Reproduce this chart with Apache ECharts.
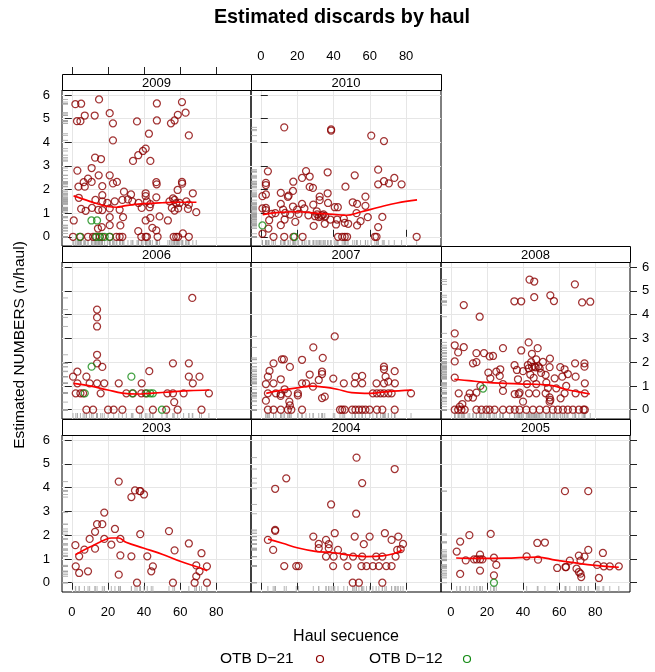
<!DOCTYPE html>
<html>
<head>
<meta charset="utf-8">
<script src="https://cdn.jsdelivr.net/npm/echarts@6/dist/echarts.min.js"></script>
<style>
  html, body { margin: 0; padding: 0; background: #fff; }
  #chart { width: 655px; height: 672px; }
</style>
</head>
<body>
<div id="chart"></div>
<script>
// points: [haul, numbers]
var red2009 = [
  [2.0, 5.61], [5.2, 5.63], [15.1, 5.81], [47.1, 5.64], [61.0, 5.70],
  [7.2, 5.13], [12.7, 5.13], [21.0, 5.23], [58.7, 5.16], [63.0, 5.25],
  [2.9, 4.89], [4.8, 4.89], [22.8, 4.80], [36.1, 4.88], [47.1, 4.92], [54.9, 4.80], [56.9, 4.92],
  [42.7, 4.36], [22.8, 4.08], [64.8, 4.29],
  [40.9, 3.73], [39.4, 3.63], [36.8, 3.45], [33.9, 3.21], [43.5, 3.21], [12.9, 3.35], [16.2, 3.29],
  [3.1, 2.80], [11.0, 2.91], [14.9, 2.60], [21.0, 2.60], [25.0, 2.32], [22.8, 2.26], [9.0, 2.46],
  [6.6, 2.31], [3.7, 2.12], [7.2, 2.12], [11.0, 2.32], [16.9, 2.14], [46.8, 2.31], [47.0, 2.22],
  [61.0, 2.32], [61.1, 2.25],
  [28.9, 1.91], [32.8, 1.79], [40.9, 1.84], [40.9, 1.72], [58.6, 1.98], [67.0, 1.84], [16.9, 1.76],
  [13.1, 1.56], [16.9, 1.50], [19.7, 1.43], [23.8, 1.50], [28.0, 1.56], [31.1, 1.58], [33.5, 1.50],
  [37.0, 1.43], [41.6, 1.50], [43.5, 1.38], [46.8, 1.67], [54.1, 1.50], [56.0, 1.62], [56.9, 1.56],
  [57.8, 1.42], [59.7, 1.43], [63.4, 1.50], [64.8, 1.36], [3.9, 1.65],
  [5.2, 1.18], [7.7, 1.10], [11.2, 1.22], [14.7, 1.14], [16.9, 1.13], [21.0, 1.20], [26.5, 1.14],
  [38.7, 1.22], [43.1, 1.25], [55.4, 1.22], [56.9, 1.11], [58.9, 1.20], [64.3, 1.18], [68.9, 1.04],
  [1.1, 0.69], [21.0, 0.83], [28.4, 0.83], [40.9, 0.69], [43.5, 0.80], [48.6, 0.86], [53.2, 0.69],
  [16.6, 0.41], [21.0, 0.49], [26.9, 0.48], [36.8, 0.24], [44.6, 0.38], [46.8, 0.27], [14.5, 0.35],
  [61.5, 0.14],
  [0.7, 0], [4.8, 0], [9.0, 0], [11.8, 0], [13.1, 0], [15.5, 0], [16.9, 0], [21.0, 0], [24.7, 0],
  [26.5, 0], [28.0, 0], [38.5, 0], [40.9, 0], [41.6, 0], [47.5, 0], [56.4, 0], [57.8, 0], [58.9, 0],
  [64.8, 0]
];
var green2009 = [[4.4, 0], [13.6, 0], [15.5, 0], [18.2, 0], [21.0, 0], [10.9, 0.69], [14.0, 0.69]];
var fit2009 = [[1, 1.73], [10, 1.50], [20, 1.28], [25, 1.25], [30, 1.32], [40, 1.40], [50, 1.44], [60, 1.46], [69, 1.46]];

var red2010 = [
  [12.9, 4.63], [38.7, 4.54], [38.7, 4.49], [60.8, 4.28], [67.8, 4.05],
  [3.9, 2.77], [64.6, 2.84], [24.9, 2.78], [36.8, 2.73], [22.7, 2.49], [26.9, 2.55], [51.7, 2.60],
  [73.5, 2.49], [67.8, 2.35], [70.5, 2.26], [77.5, 2.22], [64.6, 2.22], [2.8, 2.28], [2.8, 2.19],
  [17.9, 2.33], [26.9, 2.11], [28.7, 2.07], [46.6, 2.12],
  [17.7, 1.94], [11.0, 1.86], [15.3, 1.74], [14.9, 1.69], [36.8, 1.84], [57.6, 1.70], [32.4, 1.70],
  [32.4, 1.55], [0.9, 1.72], [2.8, 1.79],
  [50.6, 1.46], [53.0, 1.39], [57.6, 1.31], [40.7, 1.25], [42.4, 1.25], [37.0, 1.43], [22.7, 1.39],
  [28.9, 1.36], [11.0, 1.39], [17.7, 1.28], [2.8, 1.22], [2.8, 1.13], [0.9, 1.20],
  [6.1, 0.97], [12.3, 1.15], [13.4, 1.01], [16.2, 0.94], [20.8, 0.97], [26.2, 0.91], [29.9, 0.87],
  [30.8, 1.08], [31.9, 0.83], [33.7, 0.91], [35.5, 0.87], [38.3, 0.73], [42.0, 0.73], [45.7, 0.77],
  [48.1, 0.55], [52.7, 1.00], [53.0, 0.48], [54.9, 0.66], [58.9, 0.83], [66.9, 0.84], [64.6, 0.41],
  [31.0, 0.95], [33.0, 0.85], [34.5, 0.95], [24.0, 1.20], [8.0, 1.00], [20.0, 1.15],
  [4.6, 0.70], [4.2, 0.35], [11.0, 0.49], [13.1, 0.73], [19.0, 0.63], [29.1, 0.46], [35.2, 0.55],
  [41.4, 0.52], [46.2, 0.59], [0.9, 0.13],
  [7.0, 0], [12.9, 0], [18.0, 0], [23.0, 0], [42.5, 0], [44.8, 0], [46.2, 0], [47.5, 0], [62.8, 0],
  [63.7, 0], [85.8, 0]
];
var green2010 = [[0.9, 0.48], [18.6, 0]];
var fit2010 = [[1, 0.94], [10, 1.03], [20, 1.06], [30, 1.00], [40, 0.95], [47, 0.91], [55, 1.05], [65, 1.25], [75, 1.43], [86, 1.56]];

var red2006 = [
  [66.7, 4.70], [14.0, 4.21], [14.0, 3.88], [14.0, 3.50], [14.0, 2.31], [14.0, 1.95], [16.9, 1.80],
  [3.1, 1.60], [0.7, 1.39], [8.1, 1.39], [42.9, 1.62], [56.0, 1.95], [64.8, 1.95], [64.8, 1.39], [70.7, 1.39],
  [3.1, 1.11], [9.9, 1.11], [14.0, 1.11], [18.0, 1.11], [26.0, 1.11], [38.7, 1.11], [67.0, 1.11],
  [2.2, 0.69], [4.8, 0.69], [6.3, 0.69], [16.0, 0.69], [30.2, 0.69], [33.9, 0.69], [38.5, 0.69],
  [40.9, 0.69], [52.9, 0.69], [56.0, 0.69], [61.9, 0.69], [75.9, 0.69], [56.7, 0.32],
  [8.1, 0], [11.8, 0], [20.1, 0], [23.2, 0], [28.0, 0], [37.6, 0], [44.9, 0], [52.3, 0], [58.6, 0], [71.8, 0]
];
var green2006 = [[11.0, 1.81], [33.0, 1.39], [7.2, 0.69], [33.5, 0.69], [41.6, 0.69], [43.5, 0.69], [44.9, 0.69], [49.9, 0]];
var fit2006 = [[1, 1.11], [10, 1.00], [20, 0.83], [28, 0.70], [36, 0.66], [45, 0.70], [55, 0.75], [65, 0.80], [76, 0.83]];

var red2007 = [
  [40.7, 3.08], [28.9, 2.62], [34.1, 2.18], [11.6, 2.12], [12.7, 2.12], [22.7, 2.10], [7.0, 1.95],
  [16.0, 1.80], [4.8, 1.63], [3.9, 1.39], [11.0, 1.28], [26.9, 1.48], [33.7, 1.60], [33.7, 1.50],
  [31.9, 1.25], [39.9, 1.31], [52.1, 1.39], [55.8, 1.42], [67.8, 1.81], [67.8, 1.70], [73.7, 1.62], [68.7, 1.39],
  [2.8, 1.08], [7.0, 1.11], [22.7, 1.11], [24.9, 1.11], [45.7, 1.11], [51.7, 1.11], [55.8, 1.11],
  [63.7, 1.11], [67.8, 1.11], [70.2, 1.18], [73.8, 1.11], [13.1, 0.86], [28.7, 0.97],
  [3.9, 0.69], [8.3, 0.69], [11.0, 0.66], [14.9, 0.69], [20.4, 0.69], [20.4, 0.60],
  [61.7, 0.69], [63.9, 0.69], [65.9, 0.69], [67.8, 0.69], [70.2, 0.69], [72.0, 0.69], [82.7, 0.69],
  [10.9, 0.58], [2.8, 0.38], [15.7, 0.34], [16.0, 0.18], [33.7, 0.49], [35.2, 0.55],
  [3.9, 0], [7.0, 0], [11.0, 0], [14.9, 0], [16.8, 0], [22.7, 0], [43.6, 0], [44.8, 0], [46.2, 0],
  [50.3, 0], [52.1, 0], [54.0, 0], [55.8, 0], [57.6, 0], [59.9, 0], [63.9, 0], [66.9, 0], [73.7, 0]
];
var green2007 = [];
var fit2007 = [[3, 0.69], [10, 0.80], [20, 0.92], [28, 0.99], [35, 0.95], [42, 0.86], [50, 0.72], [60, 0.69], [70, 0.76], [83, 0.82]];

var red2008 = [
  [43.6, 5.47], [46.2, 5.39], [68.7, 5.27], [7.2, 4.40], [35.2, 4.56], [39.0, 4.56], [46.2, 4.73],
  [55.1, 4.81], [57.1, 4.57], [72.7, 4.51], [77.2, 4.54], [16.0, 3.91],
  [2.2, 3.21], [2.2, 2.71], [7.2, 2.63], [4.1, 2.41], [14.2, 2.38], [18.4, 2.38], [21.5, 2.24],
  [23.4, 2.26], [28.9, 2.59], [39.0, 2.49], [43.1, 2.83], [48.1, 2.59], [44.9, 2.35], [47.3, 2.12], [54.9, 2.15],
  [2.2, 2.03], [12.3, 1.95], [14.2, 2.00], [35.3, 1.87], [42.7, 1.88], [46.4, 1.81], [51.0, 2.01],
  [54.7, 1.79], [60.6, 1.79], [63.0, 1.70], [64.8, 1.50], [68.8, 1.95], [74.0, 1.95], [74.0, 1.81],
  [20.8, 1.56], [25.2, 1.60], [27.4, 1.70], [21.9, 1.32], [27.1, 1.42], [36.6, 1.67], [37.2, 1.28],
  [40.0, 1.62], [43.1, 1.74], [44.0, 1.48], [45.9, 1.34], [49.2, 1.74], [52.5, 1.46], [57.5, 1.32],
  [61.7, 1.39], [69.1, 1.39], [2.2, 1.35], [45.0, 1.80], [47.0, 1.78], [48.5, 1.82], [44.5, 2.00], [50.0, 1.55],
  [16.4, 1.00], [28.9, 1.08], [42.2, 1.08], [47.3, 1.08], [52.9, 1.14], [53.8, 0.91], [58.4, 0.90],
  [63.9, 1.00], [74.2, 1.11],
  [4.4, 0.69], [10.5, 0.69], [14.2, 0.72], [9.6, 0.51], [12.3, 0.51], [28.9, 0.79], [35.4, 0.66],
  [37.6, 0.66], [38.1, 0.72], [43.3, 0.69], [47.3, 0.69], [52.5, 0.69], [54.7, 0.52], [55.1, 0.41],
  [54.7, 0.34], [60.8, 0.48], [63.0, 0.69], [69.1, 0.69], [74.2, 0.69], [40.0, 0.34], [6.4, 0.24], [5.0, 0.13],
  [2.2, 0], [4.1, 0], [5.9, 0], [7.7, 0], [14.2, 0], [17.0, 0], [19.7, 0], [21.5, 0], [24.3, 0],
  [28.9, 0], [32.6, 0], [35.4, 0], [38.1, 0], [41.8, 0], [45.5, 0], [49.2, 0], [52.9, 0], [56.5, 0],
  [59.3, 0], [62.1, 0], [64.8, 0], [67.6, 0], [70.9, 0], [73.5, 0], [74.2, 0]
];
var green2008 = [[17.9, 0.89]];
var fit2008 = [[2, 1.28], [10, 1.22], [20, 1.15], [30, 1.11], [40, 1.08], [50, 1.06], [57, 1.00], [64, 0.85], [70, 0.76], [77, 0.66]];

var red2003 = [
  [26.0, 4.25], [35.0, 3.88], [37.6, 3.85], [38.0, 3.85], [40.0, 3.71], [33.0, 3.60], [18.0, 2.95],
  [14.0, 2.46], [16.9, 2.46], [23.9, 2.26], [12.9, 2.14], [53.8, 2.17], [37.9, 2.04],
  [9.9, 1.84], [18.0, 1.84], [26.9, 1.84], [2.0, 1.58], [21.9, 1.60], [64.8, 1.65], [7.0, 1.39],
  [12.9, 1.43], [56.9, 1.36], [71.8, 1.24], [26.9, 1.15], [33.0, 1.11], [4.1, 1.11], [41.8, 1.11],
  [68.9, 0.73], [2.2, 0.69], [44.9, 0.69], [74.8, 0.69], [9.0, 0.48], [44.0, 0.48], [70.7, 0.48],
  [4.1, 0.41], [26.0, 0.34], [68.9, 0.27],
  [36.1, 0], [56.0, 0], [68.0, 0], [74.8, 0]
];
var green2003 = [];
var fit2003 = [[2, 1.18], [10, 1.50], [19, 1.83], [22, 1.88], [26, 1.88], [30, 1.70], [40, 1.45], [50, 1.20], [60, 0.90], [70, 0.65], [75, 0.50]];

var red2004 = [
  [52.7, 5.26], [73.7, 4.78], [14.0, 4.39], [55.8, 4.19], [7.9, 3.95], [38.7, 3.29], [52.5, 2.90],
  [7.9, 2.22], [7.9, 2.18], [40.7, 2.08], [68.3, 2.08], [28.9, 1.94], [51.7, 1.94], [59.9, 1.94],
  [75.7, 1.94], [35.9, 1.80], [72.0, 1.80], [31.9, 1.63], [56.7, 1.62], [37.4, 1.62], [78.3, 1.63],
  [3.9, 1.80], [6.8, 1.38], [31.9, 1.45], [37.4, 1.45], [42.5, 1.38], [75.1, 1.38], [77.0, 1.41],
  [35.9, 1.10], [40.1, 1.10], [45.7, 1.10], [50.8, 1.10], [55.8, 1.10], [63.5, 1.10], [66.9, 1.10], [74.2, 1.10],
  [12.9, 0.70], [19.5, 0.70], [20.8, 0.70], [39.8, 0.70], [47.7, 0.70], [55.4, 0.70], [58.2, 0.70],
  [61.7, 0.70], [65.0, 0.70], [69.1, 0.70], [72.0, 0.70],
  [50.6, 0], [54.0, 0], [66.9, 0]
];
var green2004 = [];
var fit2004 = [[4, 1.83], [12, 1.66], [20, 1.47], [30, 1.32], [40, 1.26], [50, 1.15], [58, 1.10], [67, 1.13], [73, 1.22], [78, 1.37]];

var red2005 = [
  [63.2, 3.85], [76.1, 3.85], [10.3, 2.00], [22.1, 2.05], [5.2, 1.73], [47.9, 1.67], [52.1, 1.69],
  [3.3, 1.31], [16.2, 1.18], [76.1, 1.38], [84.2, 1.25], [42.0, 1.11], [70.9, 1.14], [74.0, 1.10],
  [8.3, 0.94], [12.9, 0.98], [14.4, 0.98], [16.2, 0.98], [17.5, 0.98], [23.9, 1.05], [48.3, 0.97],
  [65.9, 0.93], [71.8, 0.93], [25.2, 0.75], [81.0, 0.75], [84.7, 0.69], [88.0, 0.69], [93.0, 0.69],
  [5.2, 0.37], [16.2, 0.51], [23.9, 0.31], [58.9, 0.62], [63.5, 0.66], [63.8, 0.66], [69.6, 0.59],
  [70.9, 0.45], [71.8, 0.38], [72.2, 0.24], [82.0, 0.20]
];
var green2005 = [[23.9, 0]];
var fit2005 = [[3, 1.04], [15, 1.02], [30, 1.03], [48, 1.08], [58, 0.95], [70, 0.82], [80, 0.73], [93, 0.65]];

var xTicks = [0, 20, 40, 60, 80];
var yTicks = [0, 1, 2, 3, 4, 5, 6];
var xMin = -5.4, xMax = 99.2, yMin = -0.39, yMax = 6.21;

var FONT = '"Liberation Sans", Arial, sans-serif';
var RED = '#8b0000', GREEN = '#138a13', RUG = '#a3a3a3';

var colLeft = [62, 251, 441], colWidth = [189, 190, 189];
var rowTop = [90, 262, 435], rowHeight = [156, 157, 157];
var stripH = 16;

var panels = [
  { year: '2009', row: 0, col: 0, red: red2009, green: green2009, fit: fit2009, left: 'label', top: 'tick' },
  { year: '2010', row: 0, col: 1, red: red2010, green: green2010, fit: fit2010, top: 'label', right: 'tick' },
  { year: '2006', row: 1, col: 0, red: red2006, green: green2006, fit: fit2006, left: 'tick' },
  { year: '2007', row: 1, col: 1, red: red2007, green: green2007, fit: fit2007 },
  { year: '2008', row: 1, col: 2, red: red2008, green: green2008, fit: fit2008, right: 'label' },
  { year: '2003', row: 2, col: 0, red: red2003, green: green2003, fit: fit2003, left: 'label', bottom: 'label' },
  { year: '2004', row: 2, col: 1, red: red2004, green: green2004, fit: fit2004, bottom: 'tick' },
  { year: '2005', row: 2, col: 2, red: red2005, green: green2005, fit: fit2005, bottom: 'label', right: 'tick' }
];

var labelMargin = { bottom: 14, top: 11, left: 12, right: 12 };

function makeAxis(kind, gridIndex, position, mode, main) {
  var vals = kind === 'x' ? xTicks : yTicks;
  return {
    type: 'value',
    gridIndex: gridIndex,
    position: position,
    offset: position === 'top' ? stripH : 0,
    min: kind === 'x' ? xMin : yMin,
    max: kind === 'x' ? xMax : yMax,
    axisLine: { show: false },
    axisTick: { show: !!mode, length: 7, customValues: vals, lineStyle: { color: '#222', width: 1 } },
    axisLabel: { show: mode === 'label', customValues: vals, margin: labelMargin[position], color: '#000', fontSize: 13, fontFamily: FONT },
    splitLine: { show: main, lineStyle: { color: '#e6e6e6', width: 1 } }
  };
}

var grids = [], xAxes = [], yAxes = [], series = [], graphics = [];

panels.forEach(function (p, i) {
  var left = colLeft[p.col], top = rowTop[p.row], w = colWidth[p.col], h = rowHeight[p.row];
  grids.push({ left: left, top: top, width: w, height: h, show: true, borderColor: '#000', borderWidth: 1, backgroundColor: 'transparent' });

  var xi = xAxes.length, yi = yAxes.length;
  xAxes.push(makeAxis('x', i, 'bottom', p.bottom, true));
  yAxes.push(makeAxis('y', i, 'left', p.left, true));
  if (p.top) xAxes.push(makeAxis('x', i, 'top', p.top, false));
  if (p.right) yAxes.push(makeAxis('y', i, 'right', p.right, false));

  var all = p.red.concat(p.green);
  series.push({
    type: 'scatter', xAxisIndex: xi, yAxisIndex: yi, clip: false, silent: true, z: 1,
    symbol: 'rect', symbolSize: [6, 1], symbolOffset: [3, 0],
    itemStyle: { color: RUG },
    data: all.map(function (d) { return [xMin, d[1]]; })
  });
  series.push({
    type: 'scatter', xAxisIndex: xi, yAxisIndex: yi, clip: false, silent: true, z: 1,
    symbol: 'rect', symbolSize: [1, 6], symbolOffset: [0, -3],
    itemStyle: { color: RUG },
    data: all.map(function (d) { return [d[0], yMin]; })
  });
  series.push({
    name: 'OTB D−21', type: 'scatter', xAxisIndex: xi, yAxisIndex: yi, silent: true, z: 3,
    symbol: 'circle', symbolSize: 7,
    itemStyle: { color: 'rgba(0,0,0,0)', borderColor: RED, borderWidth: 1.25 },
    data: p.red
  });
  series.push({
    name: 'OTB D−12', type: 'scatter', xAxisIndex: xi, yAxisIndex: yi, silent: true, z: 3,
    symbol: 'circle', symbolSize: 7,
    itemStyle: { color: 'rgba(0,0,0,0)', borderColor: GREEN, borderWidth: 1.25 },
    data: p.green
  });
  series.push({
    type: 'line', xAxisIndex: xi, yAxisIndex: yi, silent: true, z: 4,
    smooth: 0.4, showSymbol: false,
    lineStyle: { color: '#ff0000', width: 1.7 },
    data: p.fit
  });

  // strip with the year
  graphics.push({
    type: 'rect', silent: true, z: 10,
    shape: { x: left + 0.5, y: top - stripH + 0.5, width: w, height: stripH },
    style: { fill: '#fff', stroke: '#000', lineWidth: 1 }
  });
  graphics.push({
    type: 'text', silent: true, z: 11,
    x: left + w / 2, y: top - stripH / 2 + 1,
    style: { text: p.year, font: '13px ' + FONT, fill: '#000', textAlign: 'center', textVerticalAlign: 'middle' }
  });
});

graphics.push(
  { type: 'text', x: 342, y: 18, silent: true,
    style: { text: 'Estimated discards by haul', font: 'bold 19.8px ' + FONT, fill: '#000', textAlign: 'center', textVerticalAlign: 'middle' } },
  { type: 'text', x: 346, y: 637, silent: true,
    style: { text: 'Haul secuence', font: '16px ' + FONT, fill: '#000', textAlign: 'center', textVerticalAlign: 'middle' } },
  { type: 'text', x: 20, y: 345, rotation: Math.PI / 2, silent: true,
    style: { text: 'Estimated NUMBERS (n/haul)', font: '15.5px ' + FONT, fill: '#000', textAlign: 'center', textVerticalAlign: 'middle' } },
  { type: 'text', x: 220, y: 659, silent: true,
    style: { text: 'OTB D−21', font: '15.5px ' + FONT, fill: '#000', textAlign: 'left', textVerticalAlign: 'middle' } },
  { type: 'circle', shape: { cx: 320, cy: 659, r: 3.5 }, silent: true,
    style: { fill: 'none', stroke: RED, lineWidth: 1.2 } },
  { type: 'text', x: 369, y: 659, silent: true,
    style: { text: 'OTB D−12', font: '15.5px ' + FONT, fill: '#000', textAlign: 'left', textVerticalAlign: 'middle' } },
  { type: 'circle', shape: { cx: 467, cy: 659, r: 3.5 }, silent: true,
    style: { fill: 'none', stroke: GREEN, lineWidth: 1.2 } }
);

var chart = echarts.init(document.getElementById('chart'), null, { renderer: 'canvas' });
chart.setOption({
  animation: false,
  backgroundColor: '#fff',
  grid: grids,
  xAxis: xAxes,
  yAxis: yAxes,
  series: series,
  graphic: graphics
});
</script>
</body>
</html>
